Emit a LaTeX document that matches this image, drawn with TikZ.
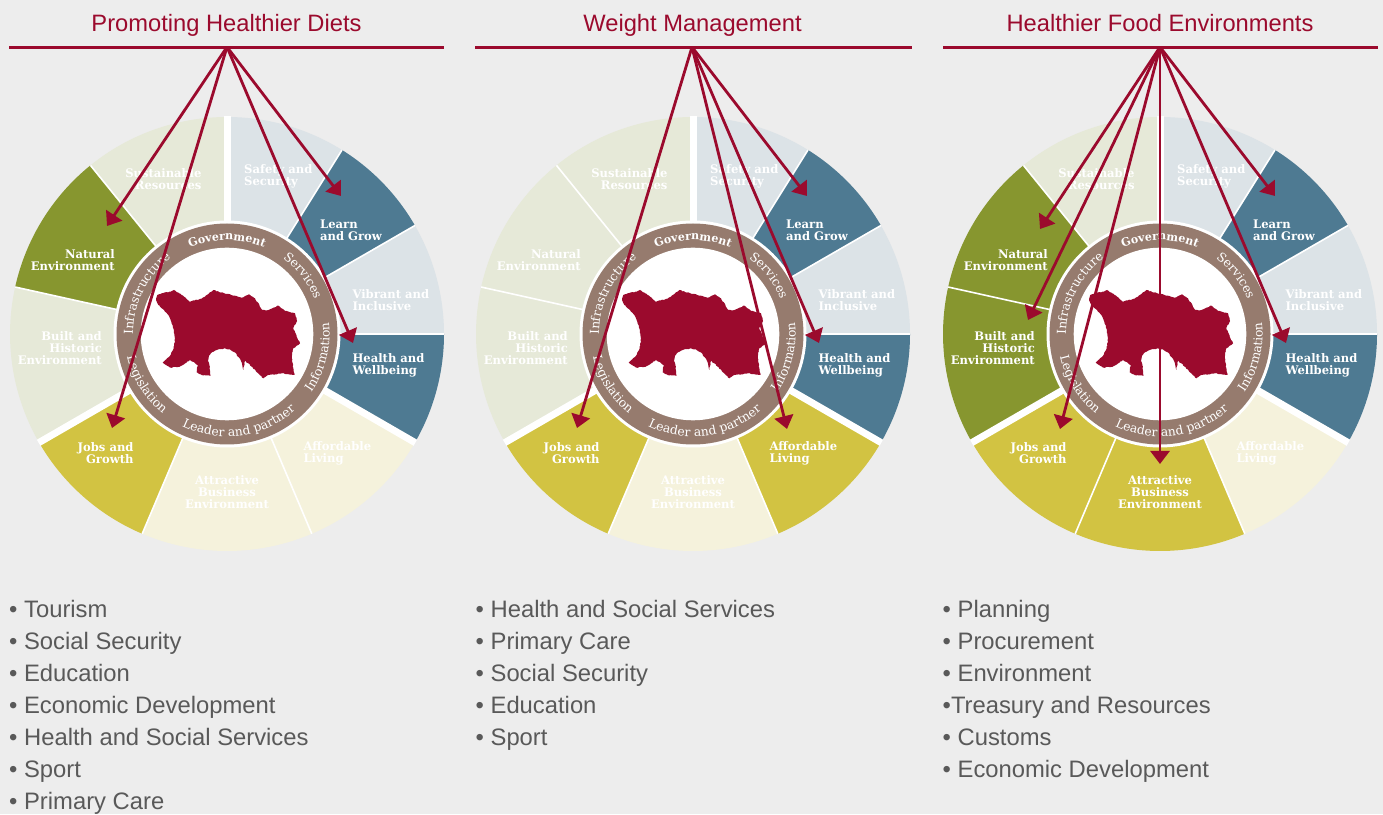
\documentclass[tikz,border=0pt]{standalone}
\usepackage{fontspec}
\setmainfont{Liberation Sans}
\newfontfamily\slabbold[FakeStretch=0.98]{DejaVu Serif Bold}
\newfontfamily\slabring{DejaVu Serif}
\usetikzlibrary{arrows.meta}
\usetikzlibrary{decorations.text}
\usetikzlibrary{decorations.pathmorphing}
\definecolor{bgcol}{HTML}{EDEDED}
\definecolor{crimson}{HTML}{9B0A2D}
\definecolor{listgray}{HTML}{595959}
\definecolor{ringbrown}{HTML}{967B6E}
\definecolor{olivepale}{HTML}{E6E9D8}
\definecolor{olivefull}{HTML}{87962F}
\definecolor{bluepale}{HTML}{DCE3E7}
\definecolor{bluefull}{HTML}{4E7A92}
\definecolor{yellowpale}{HTML}{F5F2DC}
\definecolor{yellowfull}{HTML}{D2C342}
\tikzset{
    titletext/.style = {inner sep=0pt,anchor=base,text=crimson,font=\fontsize{23.7}{26}\selectfont},
    listtext/.style = {inner sep=0pt,anchor=north west,align=left,text=listgray,font=\fontsize{23.8}{32}\selectfont},
    headrule/.style = {line width=2.7pt,draw=crimson},
    arrowline/.style = {line width=2.8pt,draw=crimson,-{Triangle[length=13pt,width=19pt]}},
    segtext/.style = {inner sep=0pt,text=white,font=\slabbold\fontsize{11.8}{12}\selectfont},
    segleft/.style = {segtext,anchor=west,align=left},
    segright/.style = {segtext,anchor=east,align=right},
    segmid/.style = {segtext,anchor=center,align=center},
    thinspoke/.style = {line width=1.6pt,draw=white},
    thickspoke/.style = {line width=7pt,draw=white},
}
% one slice of the wheel: colour, start angle, end angle
\newcommand{\slice}[3]{\fill[#1] (0,0) -- (#2:217) arc (#2:#3:217) -- cycle;}
% text round the ring: radius, start angle, end angle, font, text
\newcommand{\ringtext}[5]{\path[decorate,decoration={text along path,text align=center,
    text={|\color{white}#4|#5}}] (#2:#1) arc (#2:#3:#1);}
\newcommand{\jerseymap}{
  \pgfmathsetseed{7}
  \fill[crimson,decorate,decoration={random steps,segment length=1.6pt,amplitude=.4pt}]
    (-69.7,39) -- (-65.3,40.7) -- (-56.3,42.3) -- (-53,44) -- (-45.3,39) -- (-37,32.3)
    -- (-27,35) -- (-22,37.3) -- (-13.7,44) -- (-0.3,40) -- (8,38.3) -- (14.7,36.3)
    -- (22,39.7) -- (28,35.7) -- (35.3,24) -- (41.3,24) -- (51.3,28.3) -- (58,23)
    -- (68,20.7) -- (70,13) -- (66.3,5.7) -- (69.7,-2.7) -- (73,-9.3) -- (66.3,-14.3)
    -- (64.7,-22.7) -- (67.3,-41) -- (54.7,-39.3) -- (41.3,-41) -- (36.3,-44.3)
    -- (31.3,-39.3) -- (21.3,-29.3) -- (18,-27) -- (16.3,-36) -- (14.5,-28) -- (12,-23.5)
    -- (8,-18.5) -- (3,-15.5) -- (-3,-14.5) -- (-9,-15.5) -- (-14.5,-18) -- (-18.2,-22)
    -- (-19,-27) -- (-17.7,-31) -- (-16.3,-41.7)
    -- (-25.3,-41) -- (-30.3,-38.3) -- (-29.3,-31) -- (-37,-26) -- (-47,-32.7)
    -- (-57,-33.7) -- (-64.3,-28.3) -- (-58,-23) -- (-54,-16) -- (-52,-7.7) -- (-52.5,0) -- (-53.7,5.7)
    -- (-56,13) -- (-58.7,19) -- (-63,24) -- (-68.7,29) -- (-71,34) -- cycle;
}
% name, centre x, then colours of natural, built, affordable, attractive
\newcommand{\drawwheel}[6]{
  \begin{scope}[shift={(#2,480)}]
    \slice{bluepale}{58}{90}
    \slice{bluefull}{30}{58}
    \slice{bluepale}{0}{30}
    \slice{bluefull}{-30}{0}
    \slice{#5}{-67}{-30}
    \slice{#6}{-113}{-67}
    \slice{yellowfull}{-150}{-113}
    \slice{#4}{-192.5}{-150}
    \slice{#3}{129}{167.5}
    \slice{olivepale}{90}{129}
    \foreach \ang in {58,30,0,-67,-113,167.5,129}
      \draw[thinspoke] (0,0) -- (\ang:217);
    \foreach \ang in {90,-30,-150}
      \draw[thickspoke] (0,0) -- (\ang:217.5);
    \fill[white] (0,0) circle (113.5);
    \fill[ringbrown] (0,0) circle (110.5);
    \fill[white] (0,0) circle (86.3);
    \jerseymap
    \node[segright] (#1sust) at (-25.3,155) {Sustainable\\Resources};
    \node[segleft] (#1safe) at (17,157.3) {Safety and\\Security};
    \node[segleft] (#1lear) at (93,103.8) {Learn\\and Grow};
    \node[segleft] (#1vibr) at (125.3,34) {Vibrant and\\Inclusive};
    \node[segleft] (#1heal) at (125.3,-31.5) {Health and\\Wellbeing};
    \node[segleft] (#1affo) at (76.3,-119.5) {Affordable\\Living};
    \node[segmid] (#1attr) at (0,-157.7) {Attractive\\Business\\Environment};
    \node[segright] (#1jobs) at (-93.3,-118.7) {Jobs and\\Growth};
    \node[segright] (#1buil) at (-125,-14.3) {Built and\\Historic\\Environment};
    \node[segright] (#1natu) at (-112,74.3) {Natural\\Environment};
    \ringtext{94}{125}{55}{\slabbold\fontsize{11.3}{11}\selectfont}{Government}
    \ringtext{94}{65}{10}{\slabring\fontsize{12.3}{11}\selectfont}{Services}
    \ringtext{102.5}{-55}{27}{\slabring\fontsize{12.3}{11}\selectfont}{Information}
    \ringtext{102.5}{-128}{-36}{\slabring\fontsize{12.3}{11}\selectfont}{Leader and partner}
    \ringtext{102.5}{170}{254}{\slabring\fontsize{12.3}{11}\selectfont}{Legislation}
    \ringtext{94}{200}{107}{\slabring\fontsize{12.3}{11}\selectfont}{Infrastructure}
  \end{scope}
}

\begin{document}
\begin{tikzpicture}[x=1pt,y=1pt]
  \useasboundingbox (0,0) rectangle (1383,814);
  \fill[bgcol] (0,0) rectangle (1383,814);

  \drawwheel{a}{227}{olivefull}{olivepale}{yellowpale}{yellowpale}
  \drawwheel{b}{693}{olivepale}{olivepale}{yellowfull}{yellowpale}
  \drawwheel{c}{1160}{olivefull}{olivefull}{yellowpale}{yellowfull}

  \node[titletext] (titlea) at (226.5,782.5) {Promoting Healthier Diets};
  \node[titletext] (titleb) at (692.5,782.5) {Weight Management};
  \node[titletext] (titlec) at (1160,782.5) {Healthier Food Environments};

  \coordinate (rulea1) at (9,766.5);    \coordinate (rulea2) at (444,766.5);
  \coordinate (ruleb1) at (475,766.5);  \coordinate (ruleb2) at (912,766.5);
  \coordinate (rulec1) at (943,766.5);  \coordinate (rulec2) at (1378,766.5);
  \draw[headrule] (rulea1) -- (rulea2);
  \draw[headrule] (ruleb1) -- (ruleb2);
  \draw[headrule] (rulec1) -- (rulec2);

  \coordinate (apexa) at (227,767);
  \coordinate (apexb) at (692,767);
  \coordinate (apexc) at (1160,767);

  \coordinate (a1) at (107,588);  % natural
  \coordinate (a2) at (112,386);  % jobs
  \coordinate (a3) at (341,618);  % learn
  \coordinate (a4) at (353,471);  % health
  \coordinate (b1) at (577,386);  % jobs
  \coordinate (b2) at (787,385);  % affordable
  \coordinate (b3) at (807,618);  % learn
  \coordinate (b4) at (819,471);  % health
  \coordinate (c1) at (1040,585); % natural
  \coordinate (c2) at (1028,494); % built
  \coordinate (c3) at (1060,385); % jobs
  \coordinate (c4) at (1160,350); % attractive
  \coordinate (c5) at (1275,618); % learn
  \coordinate (c6) at (1286,471); % health

  \foreach \from/\to in {apexa/a1,apexa/a2,apexa/a3,apexa/a4,
                         apexb/b1,apexb/b2,apexb/b3,apexb/b4,
                         apexc/c1,apexc/c2,apexc/c3,apexc/c4,apexc/c5,apexc/c6}
    \draw[arrowline] (\from) -- (\to);

  \node[listtext] (lista) at (9,213.5) {• Tourism\\• Social Security\\• Education\\• Economic Development\\• Health and Social Services\\• Sport\\• Primary Care};
  \node[listtext] (listb) at (475.5,213.5) {• Health and Social Services\\• Primary Care\\• Social Security\\• Education\\• Sport};
  \node[listtext] (listc) at (942.5,213.5) {• Planning\\• Procurement\\• Environment\\•Treasury and Resources\\• Customs\\• Economic Development};
\end{tikzpicture}
\end{document}
